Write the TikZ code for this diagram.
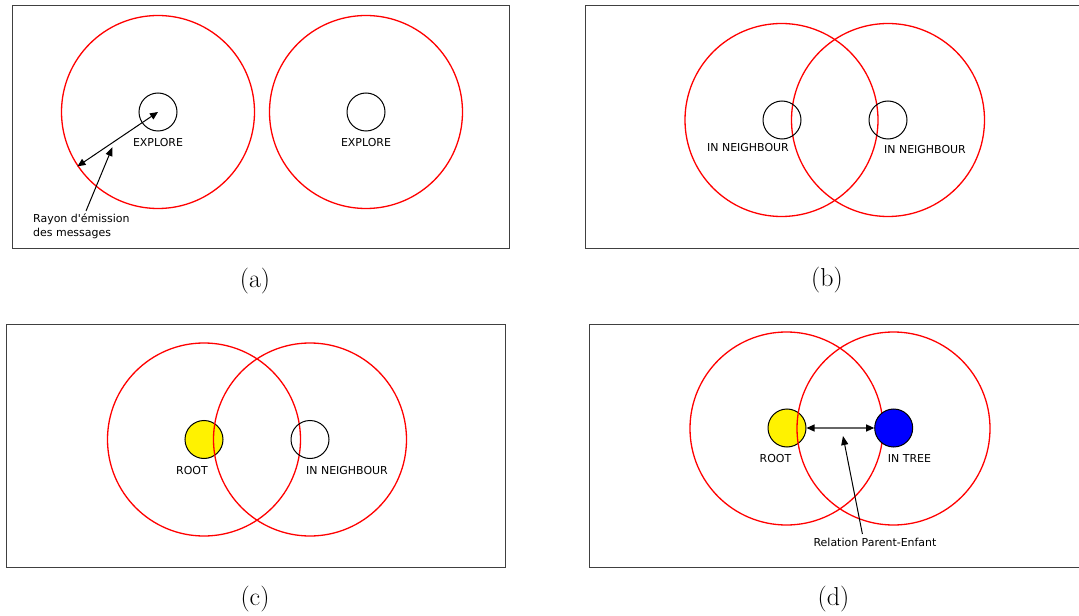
\documentclass[tikz,border=0pt]{standalone}
\usepackage{fontspec}
\newfontfamily\labfont{DejaVu Sans}
\usetikzlibrary{arrows.meta}
\begin{document}
\begin{tikzpicture}[x=1bp,y=-1bp,
  panelbox/.style={rectangle,draw=black!75,line width=0.9bp,inner sep=0pt,minimum height=243bp},
  radiozone/.style={circle,draw=red,line width=1.3bp,minimum size=193bp,inner sep=0pt},
  motenode/.style={circle,draw=black,line width=1bp,minimum size=38bp,inner sep=0pt},
  labtext/.style={font=\labfont\fontsize{11}{14}\selectfont,inner sep=0pt},
  captext/.style={font=\fontsize{26}{30}\selectfont,inner sep=0pt},
  dblarrow/.style={line width=1bp,{Triangle[length=8bp,width=7bp]}-{Triangle[length=8bp,width=7bp]}},
  leadarrow/.style={line width=1bp,-{Triangle[length=9bp,width=7bp]}}]
\useasboundingbox (0,0) rectangle (1079,616);
\clip (0,0) rectangle (1079,616);

% ---------------- (a)
\node[panelbox,minimum width=497bp] (a-box) at (260.5,126.5) {};
\node[radiozone] (a-r1) at (158,112) {};
\node[radiozone] (a-r2) at (366,112) {};
\node[motenode] (a-n1) at (158,112) {};
\node[motenode] (a-n2) at (366,112) {};
\node[labtext] (a-l1) at (158,143) {EXPLORE};
\node[labtext] (a-l2) at (366,143) {EXPLORE};
\node[labtext,align=left,anchor=west] (a-note) at (33,226) {Rayon d'émission\\des messages};
\draw[dblarrow] (a-r1.214) -- (a-n1.center);
\coordinate (a-from) at (86,211);
\coordinate (a-tip) at (112.5,147);
\draw[leadarrow] (a-from) -- (a-tip);
\node[captext] (a-cap) at (255,281) {(a)};

% ---------------- (b)
\node[panelbox,minimum width=510bp] (b-box) at (840,126.5) {};
\node[radiozone] (b-r1) at (781.5,120) {};
\node[radiozone] (b-r2) at (888,120) {};
\node[motenode] (b-n1) at (782,120) {};
\node[motenode] (b-n2) at (888,120) {};
\node[labtext] (b-l1) at (748,148) {IN NEIGHBOUR};
\node[labtext] (b-l2) at (925,149.5) {IN NEIGHBOUR};
\node[captext] (b-cap) at (827,280) {(b)};

% ---------------- (c)
\node[panelbox,minimum width=499bp] (c-box) at (255.5,445.5) {};
\node[motenode,fill=yellow] (c-n1) at (204,439.5) {};
\node[radiozone] (c-r1) at (204,439.5) {};
\node[radiozone] (c-r2) at (310,439.5) {};
\node[motenode] (c-n2) at (310,439.5) {};
\node[labtext] (c-l1) at (192,470.7) {ROOT};
\node[labtext] (c-l2) at (347,470.7) {IN NEIGHBOUR};
\node[captext] (c-cap) at (255,599) {(c)};

% ---------------- (d)
\node[panelbox,minimum width=506bp] (d-box) at (842,445.5) {};
\node[motenode,fill=yellow] (d-n1) at (787,428) {};
\node[radiozone] (d-r1) at (786.5,428.5) {};
\node[radiozone] (d-r2) at (893.5,428.5) {};
\node[motenode,fill=blue] (d-n2) at (893.7,428) {};
\draw[line width=1.1bp,draw=black!60,{Triangle[length=8bp,width=7bp,color=black]}-{Triangle[length=8bp,width=7bp,color=black]}] (d-n1.east) -- (d-n2.west);
\node[labtext] (d-l1) at (775.5,459) {ROOT};
\node[labtext] (d-l2) at (909.5,459) {IN TREE};
\node[labtext] (d-note) at (875,542.3) {Relation Parent-Enfant};
\coordinate (d-from) at (862.4,534);
\coordinate (d-tip) at (843,436);
\draw[leadarrow] (d-from) -- (d-tip);
\node[captext] (d-cap) at (833.5,599) {(d)};
\end{tikzpicture}
\end{document}
